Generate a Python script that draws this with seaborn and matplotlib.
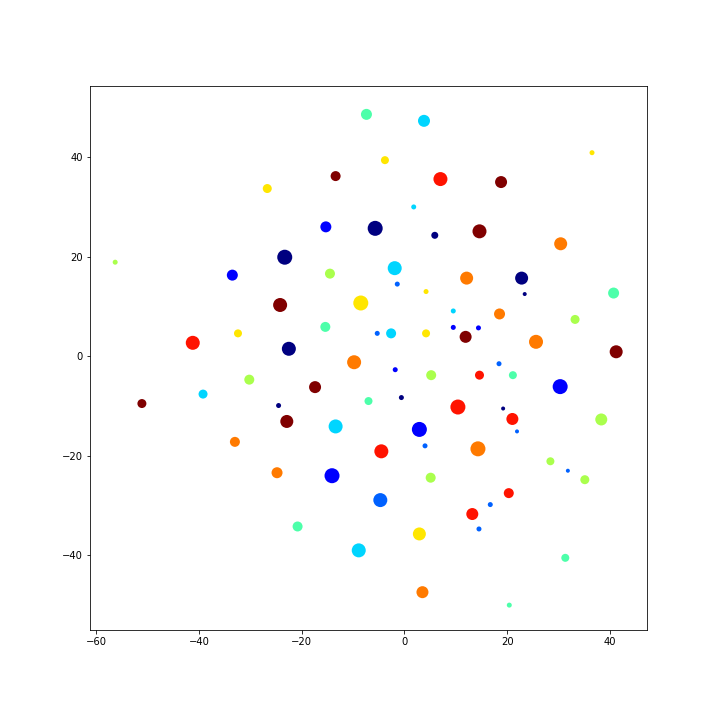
import matplotlib
matplotlib.use("Agg")
import matplotlib.pyplot as plt
import numpy as np
import pandas as pd
import seaborn as sns

x = [-7.4, 3.8, -13.4, -26.7, -15.3, -56.3, -23.3, -33.5, -14.5, -24.2,
     -8.5, -15.4, -32.4, -41.2, -22.5, -3.8, 36.5, 7.0, 18.8, 1.8,
     -5.7, 5.9, 14.6, 30.4, -1.9, -1.4, 12.1, 22.8, 23.4, 40.7,
     4.2, 9.5, 18.5, 33.2, -5.3, -2.6, 4.2, 9.5, 14.4, 11.9,
     25.6, 41.2, -9.8, -30.2, -17.4, -7.0, -39.2, -51.1, -24.5, -22.9,
     -13.4, -33.0, -24.8, -14.1, -20.8, -8.9, -1.8, 5.2, 14.6, 18.4,
     21.1, 30.3, -0.6, 10.4, 19.2, 21.0, 21.9, 38.3, 2.9, 4.0,
     -4.5, 14.3, 28.4, 31.8, 35.1, 5.1, -4.7, 20.3, 16.7, 13.2,
     14.5, 2.9, 31.3, 3.5, 20.4]
y = [48.6, 47.3, 36.2, 33.7, 26.0, 18.9, 19.9, 16.3, 16.6, 10.3,
     10.7, 5.9, 4.6, 2.7, 1.5, 39.4, 40.9, 35.6, 35.0, 30.0,
     25.7, 24.3, 25.1, 22.6, 17.7, 14.5, 15.7, 15.7, 12.5, 12.7,
     13.0, 9.1, 8.5, 7.4, 4.6, 4.6, 4.6, 5.8, 5.7, 3.9,
     2.9, 0.9, -1.2, -4.7, -6.2, -9.0, -7.6, -9.5, -9.9, -13.1,
     -14.1, -17.2, -23.4, -24.0, -34.2, -39.0, -2.7, -3.8, -3.8, -1.5,
     -3.8, -6.1, -8.3, -10.2, -10.5, -12.6, -15.1, -12.7, -14.7, -18.0,
     -19.1, -18.6, -21.1, -23.0, -24.8, -24.4, -28.9, -27.5, -29.8, -31.7,
     -34.7, -35.7, -40.5, -47.4, -50.0]
label = [4, 3, 9, 6, 1, 5, 0, 1, 5, 9,
         6, 4, 6, 8, 0, 6, 6, 8, 9, 3,
         0, 0, 9, 7, 3, 2, 7, 0, 0, 4,
         6, 3, 7, 5, 2, 3, 6, 1, 1, 9,
         7, 9, 7, 5, 9, 4, 3, 9, 0, 9,
         3, 7, 7, 1, 4, 3, 1, 5, 8, 2,
         4, 1, 0, 8, 0, 8, 2, 5, 1, 2,
         8, 7, 5, 2, 5, 5, 2, 8, 2, 8,
         2, 6, 4, 7, 4]
# rough blob diameter in points
blob = [11, 12, 10, 9, 11, 5, 15, 11, 10, 14,
        15, 10, 8, 14, 14, 8, 5, 14, 12, 5,
        15, 7, 14, 13, 14, 5, 13, 13, 4, 11,
        5, 5, 11, 9, 5, 10, 8, 5, 5, 12,
        14, 13, 14, 10, 12, 8, 9, 9, 5, 13,
        14, 10, 11, 15, 10, 14, 5, 10, 9, 5,
        8, 15, 5, 15, 4, 12, 4, 12, 15, 5,
        14, 15, 8, 4, 9, 10, 14, 10, 5, 12,
        5, 13, 8, 12, 5]

df = pd.DataFrame({"x": x, "y": y, "label": label})
area = np.array(blob, dtype=float) ** 2

fig = plt.figure(figsize=(10, 10), dpi=72)
ax = fig.add_axes([90 / 720, 90 / 720, 557 / 720, 544 / 720])
sns.scatterplot(data=df, x="x", y="y", hue="label",
                palette=matplotlib.colormaps["jet"], hue_norm=(0, 9),
                s=area, linewidth=0, legend=False, ax=ax)
ax.set_xlim(-61.2, 47.2)
ax.set_ylim(-55.0, 54.3)
ax.set_xlabel("")
ax.set_ylabel("")

plt.savefig("out.png", dpi=72)
